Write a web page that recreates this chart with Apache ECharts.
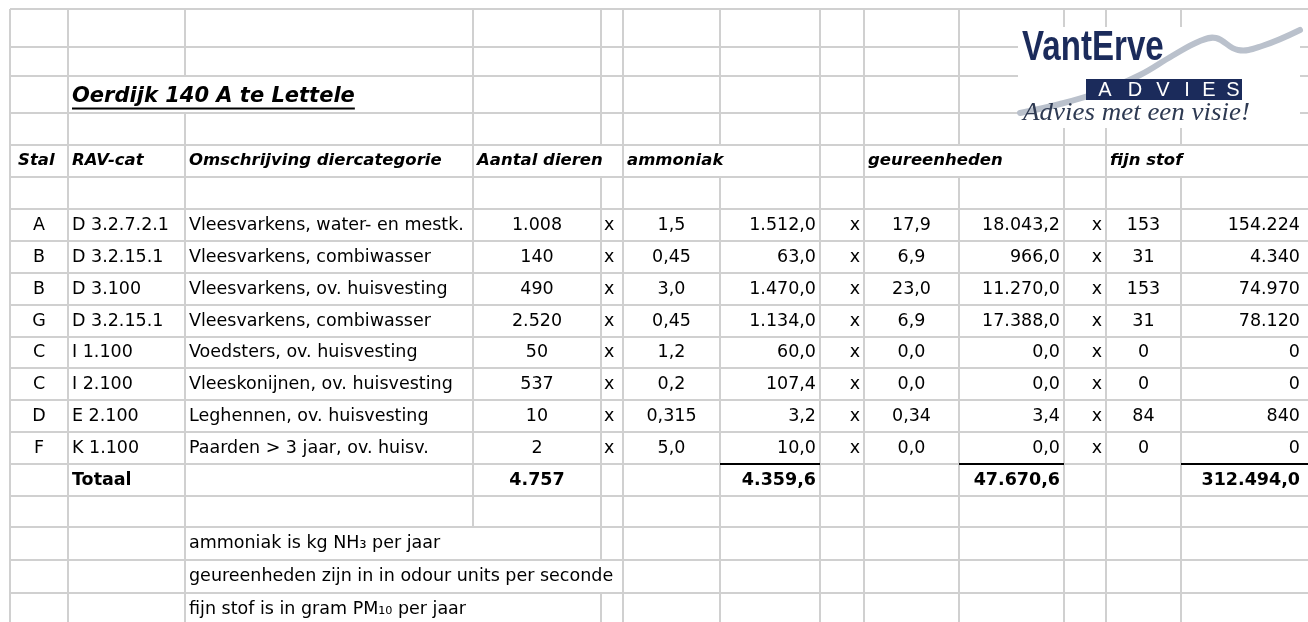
<!DOCTYPE html>
<html>
<head>
<meta charset="utf-8">
<script src="https://cdn.jsdelivr.net/npm/echarts@6/dist/echarts.min.js"></script>
<style>
  html, body { margin: 0; padding: 0; background: #fff; }
  #main { width: 1308px; height: 622px; }
</style>
</head>
<body>
<div id="main"></div>
<script>
// --- data ---
var title = 'Oerdijk 140 A te Lettele'
var headers = ['Stal', 'RAV-cat', 'Omschrijving diercategorie', 'Aantal dieren', 'ammoniak', 'geureenheden', 'fijn stof']
var stal = ['A', 'B', 'B', 'G', 'C', 'C', 'D', 'F']
var ravCat = ['D 3.2.7.2.1', 'D 3.2.15.1', 'D 3.100', 'D 3.2.15.1', 'I 1.100', 'I 2.100', 'E 2.100', 'K 1.100']
var omschrijving = [
  'Vleesvarkens, water- en mestk.',
  'Vleesvarkens, combiwasser',
  'Vleesvarkens, ov. huisvesting',
  'Vleesvarkens, combiwasser',
  'Voedsters, ov. huisvesting',
  'Vleeskonijnen, ov. huisvesting',
  'Leghennen, ov. huisvesting',
  'Paarden > 3 jaar, ov. huisv.'
]
var aantal = [1008, 140, 490, 2520, 50, 537, 10, 2]
var nh3Factor = [1.5, 0.45, 3.0, 0.45, 1.2, 0.2, 0.315, 5.0]
var nh3 = [1512.0, 63.0, 1470.0, 1134.0, 60.0, 107.4, 3.2, 10.0]
var geurFactor = [17.9, 6.9, 23.0, 6.9, 0.0, 0.0, 0.34, 0.0]
var geur = [18043.2, 966.0, 11270.0, 17388.0, 0.0, 0.0, 3.4, 0.0]
var stofFactor = [153, 31, 153, 31, 0, 0, 84, 0]
var stof = [154224, 4340, 74970, 78120, 0, 0, 840, 0]
var totaalLabel = 'Totaal'
var totaal = [4757, 4359.6, 47670.6, 312494.0] // aantal, ammoniak, geur, fijn stof
var notes = [
  'ammoniak is kg NH\u2083 per jaar',
  'geureenheden zijn in in odour units per seconde',
  'fijn stof is in gram PM\u2081\u2080 per jaar'
]

// --- sheet layout (column / row edges in px) ---
var colX = [10, 68, 185, 473, 601, 623, 720, 820, 864, 959, 1064, 1106, 1181, 1308]
var rowY = [9, 47, 76, 113, 145, 177, 209, 241, 273, 305, 337, 368, 400, 432, 464, 496, 527, 560, 593, 625]
var colAlign = ['center', 'left', 'left', 'center', 'left', 'center', 'right', 'right', 'center', 'right', 'right', 'center', 'right']
var colPad = [0, 4, 4, 0, 3, 0, 4, 4, 0, 4, 4, 0, 8]
var gridColor = '#d0d0d0'
var fonts = {
  body: '17.5px "DejaVu Sans"',
  head: 'italic bold 16.5px "DejaVu Sans"',
  title: 'italic bold 21px "DejaVu Sans"',
  bold: 'bold 17.5px "DejaVu Sans"'
}

// dutch number format
function nl(v, minDec, maxDec) {
  var parts = v.toFixed(maxDec).split('.')
  var dec = parts[1] || ''
  while (dec.length > minDec && dec.charAt(dec.length - 1) === '0') dec = dec.slice(0, -1)
  var whole = parts[0].replace(/\B(?=(\d{3})+(?!\d))/g, '.')
  return dec ? whole + ',' + dec : whole
}

var cells = []
var used = {}
function put(r, c, text, st, span, align, pad, sum) {
  span = span || 1
  cells.push({
    r: r, c: c, span: span, text: text, st: st || 'body',
    align: align || colAlign[c], pad: pad != null ? pad : colPad[c], sum: !!sum
  })
  for (var k = 0; k < span; k++) used[r + '_' + (c + k)] = true
}

put(2, 1, title, 'title', 2, 'left', 4)
put(4, 0, headers[0], 'head', 1, 'left', 8)
put(4, 1, headers[1], 'head', 1, 'left', 4)
put(4, 2, headers[2], 'head', 1, 'left', 4)
put(4, 3, headers[3], 'head', 2, 'left', 4)
put(4, 5, headers[4], 'head', 2, 'left', 4)
put(4, 8, headers[5], 'head', 2, 'left', 4)
put(4, 11, headers[6], 'head', 2, 'left', 4)

for (var i = 0; i < stal.length; i++) {
  var r = 6 + i
  put(r, 0, stal[i])
  put(r, 1, ravCat[i])
  put(r, 2, omschrijving[i])
  put(r, 3, nl(aantal[i], 0, 0))
  put(r, 4, 'x')
  put(r, 5, nl(nh3Factor[i], 1, 3))
  put(r, 6, nl(nh3[i], 1, 1))
  put(r, 7, 'x')
  put(r, 8, nl(geurFactor[i], 1, 3))
  put(r, 9, nl(geur[i], 1, 1))
  put(r, 10, 'x')
  put(r, 11, nl(stofFactor[i], 0, 0))
  put(r, 12, nl(stof[i], 0, 0))
}

put(14, 1, totaalLabel, 'bold', 1, 'left', 4)
put(14, 3, nl(totaal[0], 0, 0), 'bold')
put(14, 6, nl(totaal[1], 1, 1), 'bold', 1, null, null, true)
put(14, 9, nl(totaal[2], 1, 1), 'bold', 1, null, null, true)
put(14, 12, nl(totaal[3], 1, 1), 'bold', 1, null, null, true)

put(16, 2, notes[0], 'body', 2, 'left', 4)
put(17, 2, notes[1], 'body', 3, 'left', 4)
put(18, 2, notes[2], 'body', 2, 'left', 4)

// empty cells keep the sheet grid
for (var rr = 0; rr < rowY.length - 1; rr++) {
  for (var cc = 0; cc < colX.length - 1; cc++) {
    if (!used[rr + '_' + cc]) put(rr, cc, '')
  }
}

var measure = document.createElement('canvas').getContext('2d')
function textWidth(t, font) {
  measure.font = font
  return measure.measureText(t).width
}

function renderCell(params, api) {
  var cl = cells[params.dataIndex]
  var p0 = api.coord([colX[cl.c], rowY[cl.r]])
  var p1 = api.coord([colX[cl.c + cl.span], rowY[cl.r + 1]])
  var kids = [
    { type: 'line', shape: { x1: p0[0], y1: p0[1], x2: p1[0], y2: p0[1] },
      style: { stroke: gridColor, lineWidth: 2 }, z2: 1 },
    { type: 'line', shape: { x1: p0[0], y1: p0[1], x2: p0[0], y2: p1[1] },
      style: { stroke: gridColor, lineWidth: 2 }, z2: 1 }
  ]
  if (cl.sum) {
    kids.push({ type: 'line', shape: { x1: p0[0], y1: p0[1], x2: p1[0], y2: p0[1] },
      style: { stroke: '#000', lineWidth: 2 }, z2: 5 })
  }
  if (cl.text) {
    var font = fonts[cl.st]
    var x = cl.align === 'left' ? p0[0] + cl.pad : cl.align === 'right' ? p1[0] - cl.pad : (p0[0] + p1[0]) / 2
    var y = (p0[1] + p1[1]) / 2
    if (cl.st === 'title') y += 2
    kids.push({ type: 'text', z2: 3, style: {
      text: cl.text, x: x, y: y, font: font, fill: '#000', align: cl.align, verticalAlign: 'middle'
    } })
    if (cl.st === 'title') {
      var w = textWidth(cl.text, font)
      kids.push({ type: 'line', z2: 3, shape: { x1: x, y1: y + 12, x2: x + w, y2: y + 12 },
        style: { stroke: '#000', lineWidth: 2 } })
    }
  }
  return { type: 'group', children: kids }
}

// logo
var navy = '#1b2b5b'
var logoLetters = ['A', 'D', 'V', 'I', 'E', 'S']
var letterX = [1105, 1135, 1163, 1187, 1209, 1233]
var logo = [
  { type: 'rect', x: 1018, y: 27, shape: { width: 282, height: 101 }, style: { fill: '#fff' }, z: 100 },
  { type: 'polyline', z: 101,
    shape: { points: [[1020, 113], [1060, 104], [1100, 92], [1140, 75], [1172, 56], [1200, 41], [1216, 38], [1238, 50], [1262, 46], [1300, 30]], smooth: 0.4 },
    style: { stroke: '#bac1cc', lineWidth: 6, lineCap: 'round', fill: null } },
  { type: 'text', x: 1022, y: 48, scaleX: 0.77, z: 102,
    style: { text: 'VantErve', font: 'bold 43px "Liberation Sans"', fill: navy, align: 'left', verticalAlign: 'middle' } },
  { type: 'rect', x: 1086, y: 79, shape: { width: 156, height: 21 }, style: { fill: navy }, z: 102 }
]
logoLetters.forEach(function (ch, k) {
  logo.push({ type: 'text', x: letterX[k], y: 90, z: 103,
    style: { text: ch, font: '20px "Liberation Sans"', fill: '#fff', align: 'center', verticalAlign: 'middle' } })
})
var sloganFont = 'italic 25px "Liberation Serif"'
var slogan = 'Advies met een visie!'
logo.push({ type: 'text', x: 1023, y: 113, z: 103, scaleX: 227 / textWidth(slogan, sloganFont),
  style: { text: slogan, font: sloganFont, fill: '#2e3a52', align: 'left', verticalAlign: 'middle' } })

var chart = echarts.init(document.getElementById('main'))
chart.setOption({
  animation: false,
  grid: { left: 0, right: 0, top: 0, bottom: 0 },
  xAxis: { type: 'value', min: 0, max: 1308, show: false },
  yAxis: { type: 'value', min: 0, max: 622, inverse: true, show: false },
  graphic: logo,
  series: [{
    type: 'custom',
    clip: false,
    silent: true,
    renderItem: renderCell,
    data: cells.map(function (cl, k) { return [k] })
  }]
})
</script>
</body>
</html>
